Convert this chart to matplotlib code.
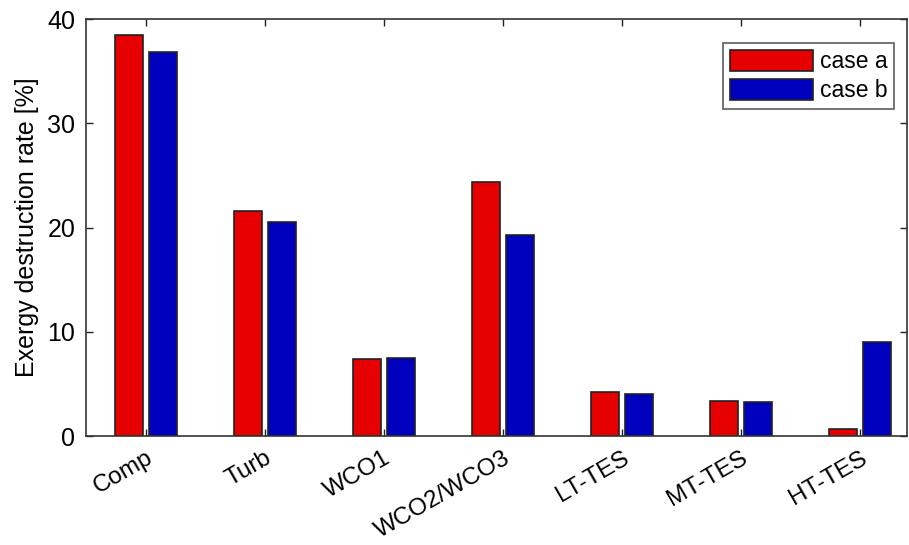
import matplotlib.pyplot as plt
import numpy as np

plt.rcParams['font.family'] = ['Liberation Sans', 'DejaVu Sans']

# exergy destruction per component, %
components = ['Comp', 'Turb', 'WCO1', 'WCO2/WCO3', 'LT-TES', 'MT-TES', 'HT-TES']
case_a = [38.5, 21.6, 7.4, 24.4, 4.2, 3.35, 0.65]
case_b = [36.8, 20.5, 7.5, 19.3, 4.0, 3.25, 9.0]

x = np.arange(1, len(components) + 1)
w = 0.235
off = 0.143

fig = plt.figure(figsize=(9.09, 5.45), dpi=100)
ax = fig.add_axes([0.095, 0.2, 0.903, 0.765])

ax.bar(x - off, case_a, w, color='#e60000', edgecolor='#222222', linewidth=1.2, label='case a')
ax.bar(x + off, case_b, w, color='#0000bf', edgecolor='#222222', linewidth=1.2, label='case b')

ax.set_xlim(0.5, 7.4)
ax.set_ylim(0, 40)
ax.set_yticks([0, 10, 20, 30, 40])
ax.set_xticks(x)
ax.set_xticklabels(components, rotation=30, ha='right', rotation_mode='anchor')
ax.tick_params(axis='both', direction='in', labelsize=18, width=1, length=5,
               top=True, right=True, colors='#222222', labelcolor='black')
ax.tick_params(axis='x', pad=8, labelsize=17.5)
ax.tick_params(axis='y', pad=8)
ax.set_ylabel('Exergy destruction rate [%]', fontsize=18, labelpad=6)
for s in ax.spines.values():
    s.set_color('#333333')
    s.set_linewidth(1.2)

leg = ax.legend(loc='upper right', fontsize=16.5, frameon=True, fancybox=False,
                edgecolor='#333333', handlelength=3.6, handleheight=1.0,
                handletextpad=0.3, borderpad=0.3, labelspacing=0.25,
                bbox_to_anchor=(0.998, 0.969))
leg.get_frame().set_linewidth(1.2)

fig.savefig('out.png', dpi=100)
